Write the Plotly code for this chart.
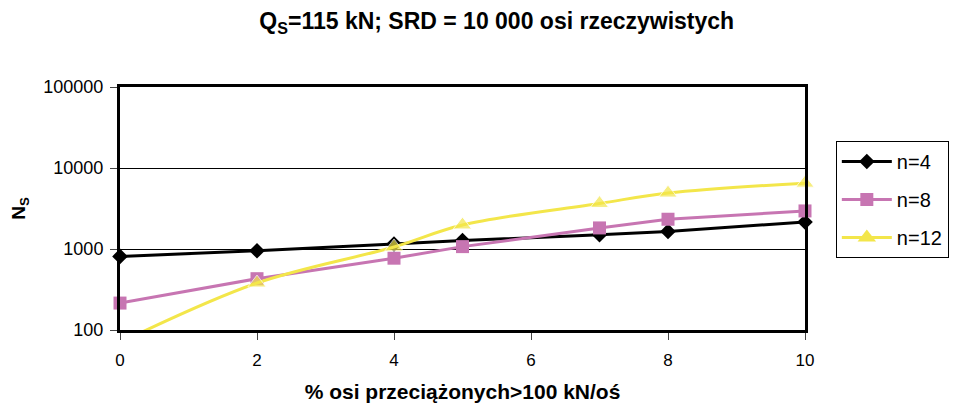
import plotly.graph_objects as go

x_vals = [0, 2, 4, 5, 7, 8, 10]
n4 = [810, 950, 1150, 1270, 1500, 1650, 2150]
n8 = [215, 430, 770, 1070, 1820, 2330, 2950]
n12 = [70, 380, 1060, 1980, 3650, 4900, 6500]
series_names = ["n=4", "n=8", "n=12"]
y_ticks = [100, 1000, 10000, 100000]
x_ticks = [0, 2, 4, 6, 8, 10]

PINK = "#C775B2"
YELLOW = "#F3E64A"

fig = go.Figure()
fig.add_trace(go.Scatter(x=x_vals, y=n4, name=series_names[0], mode="lines+markers",
                         line=dict(color="black", width=3),
                         marker=dict(symbol="diamond", size=12, color="black"),
                         cliponaxis=False, legendgroup="a"))
fig.add_trace(go.Scatter(x=x_vals, y=n8, name=series_names[1], mode="lines+markers",
                         line=dict(color=PINK, width=3),
                         marker=dict(symbol="square", size=13, color=PINK),
                         cliponaxis=False, legendgroup="b"))
# n=12: the x=0 value lies below the axis range, so its marker is not drawn
fig.add_trace(go.Scatter(x=x_vals, y=n12, name=series_names[2], mode="lines+markers",
                         line=dict(color=YELLOW, width=3, shape="spline", smoothing=1),
                         marker=dict(symbol="triangle-up", size=[0] + [16] * (len(n12) - 1),
                                     color=YELLOW),
                         cliponaxis=False, legendgroup="c", showlegend=False))
# legend entry for n=12
fig.add_trace(go.Scatter(x=[None], y=[None], name=series_names[2], mode="lines+markers",
                         line=dict(color=YELLOW, width=3),
                         marker=dict(symbol="triangle-up", size=16, color=YELLOW),
                         legendgroup="c", showlegend=True))

# page body has an 8px margin: figure is shrunk/offset accordingly
fig.update_layout(
    width=949, height=395,
    margin=dict(l=112, r=152, t=79, b=73, autoexpand=False),
    paper_bgcolor="white", plot_bgcolor="white",
    font=dict(family="Liberation Sans, Arial", color="black", size=17),
    title=dict(text="<b>Q<sub>S</sub>=115 kN; SRD = 10 000 osi rzeczywistych</b>",
               x=0.515, xanchor="center", y=0.968, yanchor="middle",
               yref="container", font=dict(size=23)),
    legend=dict(x=1.045, xanchor="left", y=0.778, yanchor="top",
                bordercolor="black", borderwidth=1, bgcolor="white",
                font=dict(size=20), tracegroupgap=9, traceorder="grouped",
                itemwidth=50),
    showlegend=True,
)
fig.update_xaxes(range=[0, 10], tickvals=x_ticks, ticks="outside", ticklen=7,
                 ticklabelstandoff=6, automargin=False,
                 showline=True, linewidth=3, linecolor="black", mirror=True,
                 showgrid=False, zeroline=False,
                 title=dict(text="<b>% osi przeciążonych>100 kN/oś</b>", font=dict(size=21),
                            standoff=22))
fig.update_yaxes(type="log", range=[2, 5], tickvals=y_ticks, automargin=False,
                 ticktext=[str(v) for v in y_ticks], ticks="outside", ticklen=7,
                 ticklabelstandoff=3, tickfont=dict(size=18),
                 showline=True, linewidth=3, linecolor="black", mirror=True,
                 showgrid=True, gridcolor="black", gridwidth=1,
                 title=dict(text="<b>N<sub>S</sub></b>", font=dict(size=19), standoff=20))

fig.write_html("out.html")
